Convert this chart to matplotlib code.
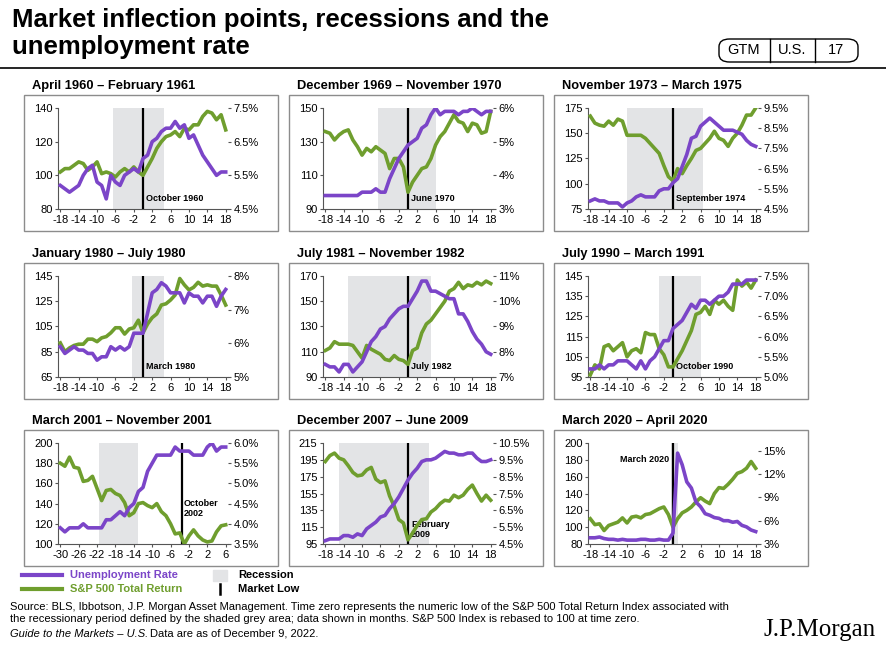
import matplotlib
matplotlib.use("Agg")
import matplotlib.pyplot as plt
from matplotlib.patches import Rectangle, FancyBboxPatch
import numpy as np

W, H = 887, 645
PURPLE = "#7b45c8"
GREEN = "#6f9e2e"
SHADE = "#e3e4e6"

titles = ["April 1960 \u2013 February 1961", "December 1969 \u2013 November 1970",
          "November 1973 \u2013 March 1975", "January 1980 \u2013 July 1980",
          "July 1981 \u2013 November 1982", "July 1990 \u2013 March 1991",
          "March 2001 \u2013 November 2001", "December 2007 \u2013 June 2009",
          "March 2020 \u2013 April 2020"]
low_labels = ["October 1960", "June 1970", "September 1974", "March 1980",
              "July 1982", "October 1990", "October\n2002", "February\n2009", "March 2020"]
x_start = [-18, -18, -18, -18, -18, -18, -30, -18, -18]
shade_rng = [(-6.5, 4.5), (-6.5, 6), (-10, 6.5), (-2.5, 4.5), (-13, 5),
             (-3, 6), (-21.5, -13), (-15, 4.5), (-0.4, 1.0)]
low_x = [0, 0, 0, 0, 0, 0, -3.5, 0, 0]
left_ticks = [[80, 100, 120, 140], [90, 110, 130, 150], [75, 100, 125, 150, 175],
              [65, 85, 105, 125, 145], [90, 110, 130, 150, 170], [95, 105, 115, 125, 135, 145],
              [100, 120, 140, 160, 180, 200], [95, 115, 135, 155, 175, 195, 215],
              [80, 100, 120, 140, 160, 180, 200]]
right_ticks = [[4.5, 5.5, 6.5, 7.5], [3, 4, 5, 6], [4.5, 5.5, 6.5, 7.5, 8.5, 9.5],
               [5, 6, 7, 8], [7, 8, 9, 10, 11], [5.0, 5.5, 6.0, 6.5, 7.0, 7.5],
               [3.5, 4.0, 4.5, 5.0, 5.5, 6.0], [4.5, 5.5, 6.5, 7.5, 8.5, 9.5, 10.5],
               [3, 6, 9, 12, 15]]
right_lim = [None, None, None, None, None, None, None, None, (3, 16)]

sp500 = [
    [102, 104, 104, 106, 108, 107, 103, 105, 108, 101, 102, 101, 99, 102, 104, 102, 105, 102, 100,
     105, 110, 116, 120, 123, 124, 126, 123, 128, 127, 130, 130, 135, 138, 137, 133, 136, 127],
    [136, 135, 131, 134, 136, 137, 131, 127, 122, 126, 124, 127, 125, 123, 114, 120, 120, 115, 100,
     106, 110, 114, 115, 120, 128, 133, 136, 141, 146, 142, 141, 136, 141, 140, 135, 136, 148],
    [167, 160, 158, 157, 162, 158, 164, 162, 148, 148, 148, 148, 145, 140, 135, 130, 118, 107, 103,
     115, 110, 118, 125, 133, 135, 140, 145, 152, 145, 143, 137, 145, 150, 158, 168, 168, 175],
    [92, 85, 88, 90, 91, 91, 95, 95, 93, 96, 97, 100, 104, 104, 99, 103, 104, 110, 100,
     107, 112, 115, 122, 123, 126, 130, 143, 138, 134, 136, 140, 137, 138, 137, 137, 130, 122],
    [111, 113, 118, 116, 116, 116, 115, 110, 105, 115, 112, 110, 108, 104, 103, 107, 104, 103, 100,
     111, 113, 125, 132, 135, 140, 145, 150, 158, 160, 165, 160, 163, 162, 165, 163, 166, 164],
    [96, 101, 99, 110, 111, 108, 110, 112, 105, 108, 109, 107, 117, 116, 116, 109, 106, 100, 100,
     104, 108, 113, 118, 126, 127, 130, 126, 133, 131, 133, 130, 128, 143, 140, 142, 139, 143],
    [180, 177, 186, 176, 175, 162, 163, 167, 155, 143, 153, 154, 150, 148, 141, 128, 131, 140, 141,
     138, 136, 140, 132, 128, 120, 110, 111, 100, 108, 114, 108, 104, 102, 103, 112, 118, 119],
    [193, 200, 203, 197, 195, 188, 180, 176, 177, 183, 186, 172, 168, 170, 152, 140, 124, 120, 100,
     108, 117, 124, 125, 133, 137, 143, 147, 146, 153, 150, 153, 160, 165, 155, 146, 153, 147],
    [110, 103, 104, 96, 102, 104, 106, 111, 105, 112, 113, 111, 115, 116, 119, 122, 124, 115, 100,
     110, 117, 120, 124, 130, 135, 131, 128, 140, 147, 146, 151, 157, 164, 166, 170, 178, 170],
]
unemp = [
    [5.2, 5.1, 5.0, 5.1, 5.2, 5.5, 5.7, 5.8, 5.3, 5.2, 4.8, 5.5, 5.3, 5.2, 5.5, 5.6, 5.7, 5.6, 6.0,
     6.1, 6.5, 6.6, 6.8, 6.9, 6.9, 7.1, 6.9, 7.0, 6.6, 6.7, 6.4, 6.1, 5.9, 5.7, 5.5, 5.6, 5.6],
    [3.4, 3.4, 3.4, 3.4, 3.4, 3.4, 3.4, 3.4, 3.5, 3.5, 3.5, 3.6, 3.5, 3.5, 3.9, 4.2, 4.5, 4.7, 4.9,
     5.0, 5.1, 5.4, 5.5, 5.8, 6.0, 5.8, 5.9, 5.9, 5.9, 5.8, 5.9, 5.9, 6.0, 5.9, 5.8, 5.9, 5.9],
    [4.9, 5.0, 4.9, 4.9, 4.8, 4.8, 4.8, 4.6, 4.8, 4.9, 5.1, 5.2, 5.1, 5.1, 5.1, 5.4, 5.5, 5.5, 5.8,
     6.0, 6.6, 7.2, 8.0, 8.1, 8.6, 8.8, 9.0, 8.8, 8.6, 8.4, 8.4, 8.4, 8.3, 8.2, 7.9, 7.7, 7.6],
    [5.9, 5.7, 5.8, 5.9, 5.8, 5.8, 5.7, 5.7, 5.5, 5.6, 5.6, 5.9, 5.8, 5.9, 5.8, 5.9, 6.3, 6.3, 6.3,
     6.9, 7.5, 7.6, 7.8, 7.7, 7.5, 7.5, 7.5, 7.2, 7.5, 7.4, 7.4, 7.2, 7.4, 7.4, 7.1, 7.4, 7.6],
    [7.5, 7.4, 7.4, 7.2, 7.5, 7.5, 7.2, 7.4, 7.6, 8.0, 8.4, 8.6, 8.9, 9.0, 9.3, 9.5, 9.7, 9.8, 9.8,
     10.1, 10.4, 10.8, 10.8, 10.4, 10.4, 10.3, 10.2, 10.1, 10.1, 9.5, 9.5, 9.2, 8.8, 8.5, 8.3, 8.0, 7.9],
    [5.2, 5.2, 5.3, 5.2, 5.3, 5.3, 5.4, 5.4, 5.4, 5.3, 5.2, 5.4, 5.2, 5.4, 5.5, 5.7, 5.9, 5.9, 6.2,
     6.3, 6.4, 6.6, 6.8, 6.7, 6.9, 6.9, 6.8, 6.9, 7.0, 7.0, 7.1, 7.3, 7.3, 7.3, 7.4, 7.4, 7.4],
    [3.9, 3.8, 3.9, 3.9, 3.9, 4.0, 3.9, 3.9, 3.9, 3.9, 4.1, 4.1, 4.2, 4.3, 4.2, 4.4, 4.5, 4.8, 4.9,
     5.3, 5.5, 5.7, 5.7, 5.7, 5.7, 5.9, 5.8, 5.8, 5.8, 5.7, 5.7, 5.7, 5.9, 6.0, 5.8, 5.9, 5.9],
    [4.7, 4.8, 4.8, 4.8, 5.0, 5.0, 4.9, 5.1, 5.0, 5.4, 5.6, 5.8, 6.1, 6.2, 6.6, 6.9, 7.3, 7.8, 8.3,
     8.7, 9.0, 9.4, 9.5, 9.5, 9.6, 9.8, 10.0, 9.9, 9.9, 9.8, 9.8, 9.9, 9.9, 9.6, 9.4, 9.4, 9.5],
    [3.8, 3.8, 3.9, 3.7, 3.6, 3.6, 3.5, 3.6, 3.5, 3.5, 3.5, 3.6, 3.6, 3.5, 3.5, 3.6, 3.5, 3.5, 4.4,
     14.7, 13.2, 11.0, 10.2, 8.4, 7.8, 6.9, 6.7, 6.4, 6.3, 6.0, 6.0, 5.8, 5.9, 5.4, 5.2, 4.8, 4.6],
]

plt.rcParams["font.family"] = ["Liberation Sans", "DejaVu Sans"]
plt.rcParams["axes.unicode_minus"] = False
fig = plt.figure(figsize=(W / 100, H / 100), dpi=100)


def px(x0, y0, w, h):
    return [x0 / W, 1 - (y0 + h) / H, w / W, h / H]


def fy(y):
    return 1 - y / H


# header
fig.text(12 / W, fy(20), "Market inflection points, recessions and the", fontsize=18.5,
         fontweight="bold", va="center")
fig.text(12 / W, fy(47), "unemployment rate", fontsize=18.5, fontweight="bold", va="center")
fig.add_artist(plt.Line2D([0, 1], [fy(68)] * 2, color="black", lw=1.2))
box = FancyBboxPatch((719 / W, fy(62)), 139 / W, 23 / H, boxstyle="round,pad=0,rounding_size=0.012",
                     transform=fig.transFigure, fill=False, ec="black", lw=1)
fig.add_artist(box)
for xs in (770, 815):
    fig.add_artist(plt.Line2D([xs / W] * 2, [fy(62), fy(39)], color="black", lw=1))
for xt, t in ((744, "GTM"), (792, "U.S."), (836, "17")):
    fig.text(xt / W, fy(50), t, fontsize=10.5, ha="center", va="center")

col_x = [24, 289, 554]
row_y = [95, 263, 430]
box_w, box_h = 254, 136
for i in range(9):
    r, c = divmod(i, 3)
    bx, by = col_x[c], row_y[r]
    fig.add_artist(Rectangle((bx / W, fy(by + box_h)), box_w / W, box_h / H,
                             transform=fig.transFigure, fill=False, ec="#8c8c8c", lw=1))
    fig.text((bx + 8) / W, fy(by - 9), titles[i], fontsize=9.3, fontweight="bold", va="center")
    ax = fig.add_axes(px(bx + 34, by + 13, 170, 101))
    x = np.arange(x_start[i], x_start[i] + len(sp500[i]))
    ax.axvspan(*shade_rng[i], color=SHADE, lw=0, zorder=0)
    ax.axvline(low_x[i], color="black", lw=1.6, zorder=3)
    ax.plot(x, sp500[i], color=GREEN, lw=2.6, zorder=4)
    lt = left_ticks[i]
    ax.set_ylim(lt[0], lt[-1])
    ax.set_yticks(lt)
    ax.set_xlim(x[0] - 0.5, x[-1] + 0.5)
    ax.set_xticks(x[::4])
    ax2 = ax.twinx()
    ax2.plot(x, unemp[i], color=PURPLE, lw=2.6, zorder=5)
    rt = right_ticks[i]
    ax2.set_ylim(right_lim[i] if right_lim[i] else (rt[0], rt[-1]))
    ax2.set_yticks(rt)
    dec = 1 if any(t != int(t) for t in rt) else 0
    ax2.set_yticklabels([f"{t:.{dec}f}%" for t in rt])
    for a in (ax, ax2):
        for s in ("top", "right", "left"):
            a.spines[s].set_visible(False)
        a.spines["bottom"].set_color("#555555")
        a.tick_params(labelsize=8, length=2.5, pad=1.5, color="#555555")
    ax.spines["left"].set_visible(True)
    ax.spines["left"].set_color("#555555")
    ax2.spines["bottom"].set_visible(False)
    # market low annotation
    if i == 8:
        ax.text(low_x[i] - 0.8, 180, low_labels[i], fontsize=6.5, fontweight="bold", ha="right", va="center")
    elif i == 6:
        ax.text(low_x[i] + 0.3, 135, low_labels[i], fontsize=6.5, fontweight="bold", ha="left", va="center")
    elif i == 7:
        ax.text(low_x[i] + 0.7, 112, low_labels[i], fontsize=6.5, fontweight="bold", ha="left", va="center")
    else:
        ax.text(low_x[i] + 0.7, lt[0] + (lt[-1] - lt[0]) * 0.1, low_labels[i], fontsize=6.5,
                fontweight="bold", ha="left", va="center")

# legend
fig.add_artist(plt.Line2D([22 / W, 62 / W], [fy(575)] * 2, color=PURPLE, lw=3))
fig.text(70 / W, fy(575), "Unemployment Rate", color=PURPLE, fontsize=8, fontweight="bold", va="center")
fig.add_artist(plt.Line2D([22 / W, 62 / W], [fy(589)] * 2, color=GREEN, lw=3))
fig.text(70 / W, fy(589), "S&P 500 Total Return", color=GREEN, fontsize=8, fontweight="bold", va="center")
fig.add_artist(Rectangle((213 / W, fy(581)), 14 / W, 11 / H, transform=fig.transFigure, color=SHADE))
fig.text(238 / W, fy(575), "Recession", fontsize=8, fontweight="bold", va="center")
fig.add_artist(plt.Line2D([220 / W] * 2, [fy(584), fy(594)], color="black", lw=1.8))
fig.text(238 / W, fy(589), "Market Low", fontsize=8, fontweight="bold", va="center")

src = ("Source: BLS, Ibbotson, J.P. Morgan Asset Management. Time zero represents the numeric low of the S&P 500 Total Return Index associated with\n"
       "the recessionary period defined by the shaded grey area; data shown in months. S&P 500 Index is rebased to 100 at time zero.")
fig.text(10 / W, fy(613), src, fontsize=8, va="center", linespacing=1.2)
fig.text(10 / W, fy(634), "Guide to the Markets \u2013 U.S.", fontsize=8, style="italic", va="center")
fig.text(150 / W, fy(634), "Data are as of December 9, 2022.", fontsize=8, va="center")
fig.text(876 / W, fy(630), "J.P.Morgan", fontsize=18, family=["Liberation Serif", "DejaVu Serif"],
         ha="right", va="center")

fig.savefig("out.png", dpi=100)
